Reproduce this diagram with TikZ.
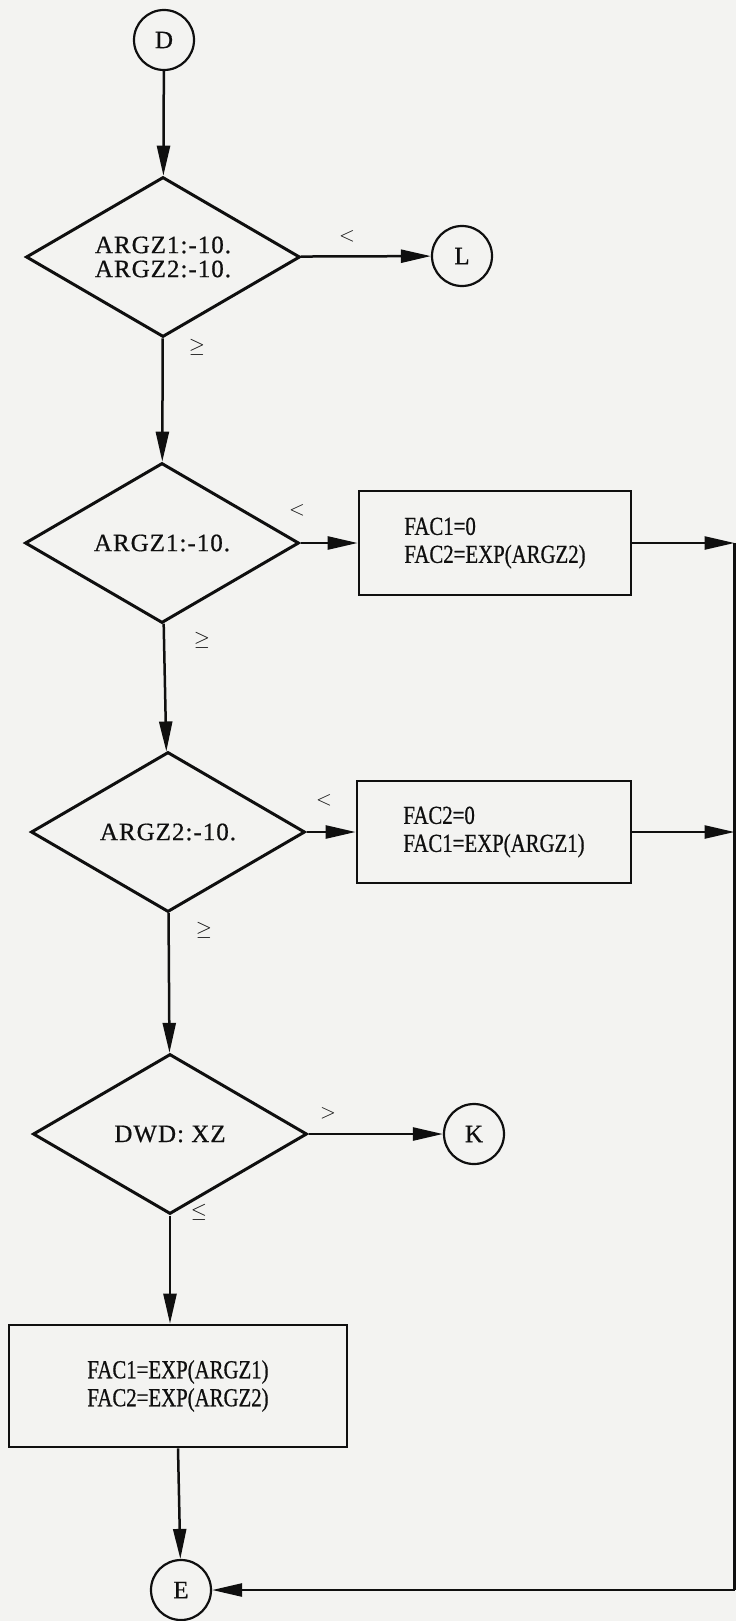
\documentclass[tikz,border=0pt]{standalone}
\usepackage{fontspec}
\setmainfont[FakeBold=0.6]{Liberation Serif}
\newfontfamily\dfont[LetterSpace=4,FakeBold=0.6]{Liberation Serif}
\newfontfamily\bfont[FakeStretch=0.8,FakeBold=0.6]{Liberation Serif}
\usetikzlibrary{shapes.geometric,arrows.meta}
\definecolor{paper}{RGB}{243,243,241}
\definecolor{ink}{RGB}{15,15,15}
\begin{document}
\begin{tikzpicture}[x=1pt,y=-1pt,
  every node/.style={inner sep=0pt, text=ink},
  dia/.style={diamond, draw=ink, line width=3pt, aspect=1.71, minimum width=274pt, minimum height=160pt, font=\dfont\fontsize{25}{24}\selectfont, align=center},
  pbox/.style={rectangle, draw=ink, line width=2.6pt, font=\bfont\fontsize{26}{28}\selectfont, align=left},
  conn/.style={circle, draw=ink, line width=2.2pt, minimum size=60pt, font=\fontsize{25}{26}\selectfont},
  arr/.style={draw=ink, line width=2.5pt, -{Triangle[length=30pt,width=13pt]}},
  ln/.style={draw=ink, line width=2.5pt},
  lab/.style={font=\fontsize{20}{20}\selectfont}
]
\useasboundingbox[fill=paper] (0,0) rectangle (736,1621);

\node[conn] (D) at (164,40) {D};
\node[dia] (d1) at (163,257) {ARGZ1:-10.\\ARGZ2:-10.};
\node[conn] (L) at (462,256) {L};
\node[dia] (d2) at (162,543) {ARGZ1:-10.};
\node[pbox, minimum width=272pt, minimum height=104pt] (b2) at (495,543) {FAC1=0\\FAC2=EXP(ARGZ2)};
\node[dia] (d3) at (168,832) {ARGZ2:-10.};
\node[pbox, minimum width=274pt, minimum height=102pt] (b3) at (494,832) {FAC2=0\\FAC1=EXP(ARGZ1)};
\node[dia] (d4) at (170,1134) {DWD: XZ};
\node[conn] (K) at (474,1134) {K};
\node[pbox, minimum width=338pt, minimum height=122pt] (b5) at (178,1386) {FAC1=EXP(ARGZ1)\\FAC2=EXP(ARGZ2)};
\node[conn] (E) at (181,1590) {E};
\coordinate (r1) at (734.5,543);
\coordinate (r2) at (734.5,832);
\coordinate (rE) at (734.5,1590);

\node[lab] (l1) at (347,236) {$<$};
\node[lab] (l2) at (197,347) {$\geq$};
\node[lab] (l3) at (297,510) {$<$};
\node[lab] (l4) at (202,640) {$\geq$};
\node[lab] (l5) at (324,800) {$<$};
\node[lab] (l6) at (204,930) {$\geq$};
\node[lab] (l7) at (328,1113) {$>$};
\node[lab] (l8) at (199,1212) {$\leq$};

\draw[arr] (D) -- (d1);
\draw[arr] (d1) -- (L);
\draw[arr] (d1) -- (d2);
\draw[arr] (d2) -- (b2);
\draw[arr] (d2) -- (d3);
\draw[arr] (d3) -- (b3);
\draw[arr] (d3) -- (d4);
\draw[arr] (d4) -- (K);
\draw[arr] (d4.south) -- (d4.south |- b5.north);
\draw[arr] (b5.south) -- (E);
\draw[arr] (b2) -- (r1);
\draw[arr] (b3) -- (r2);
\draw[ln] (r1) -- (rE);
\draw[arr] (rE) -- (E);
\end{tikzpicture}
\end{document}
